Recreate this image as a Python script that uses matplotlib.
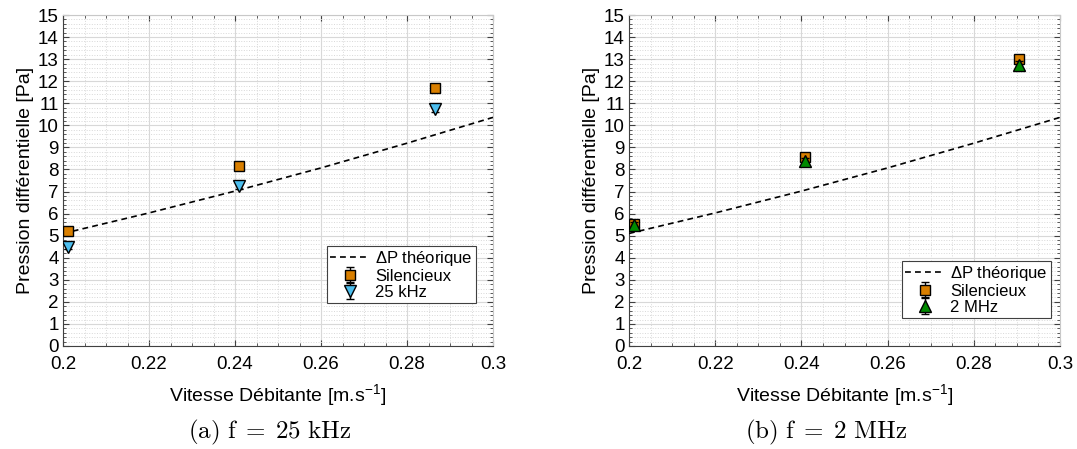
import matplotlib.pyplot as plt
from matplotlib.ticker import MultipleLocator


# theoretical pressure drop
theo_v = [0.20, 0.22, 0.24, 0.26, 0.28, 0.30]
theo_dp = [5.10, 6.03, 7.02, 8.07, 9.19, 10.36]

# (a) f = 25 kHz
v_a = [0.2011, 0.2409, 0.2865]
silent_a = [5.22, 8.17, 11.69]
silent_a_err = [0.12, 0.18, 0.12]
us_a = [4.50, 7.27, 10.72]
us_a_err = [0.10, 0.15, 0.10]

# (b) f = 2 MHz
v_b = [0.2011, 0.2409, 0.2905]
silent_b = [5.55, 8.58, 13.00]
silent_b_err = [0.12, 0.12, 0.20]
us_b = [5.50, 8.40, 12.75]
us_b_err = [0.10, 0.10, 0.15]

ORANGE = "#D97F00"
CYAN = "#4DBEEE"
GREEN = "#008A00"

plt.rcParams["font.family"] = ["Liberation Sans", "DejaVu Sans"]
plt.rcParams["mathtext.fontset"] = "custom"
plt.rcParams["mathtext.rm"] = "Liberation Sans"


def draw_panel(ax, v, silent, silent_err, us, us_err, us_label, us_marker, us_color, legend_anchor):
    ax.plot(theo_v, theo_dp, color="black", linestyle=(0, (3.5, 2.5)), linewidth=1.2,
            label=r"$\Delta$P théorique", zorder=3)
    ax.errorbar(v, silent, yerr=silent_err, fmt="s", color="black", markerfacecolor=ORANGE,
                markeredgecolor="black", markersize=7, elinewidth=1, capsize=3,
                label="Silencieux", zorder=4)
    ax.errorbar(v, us, yerr=us_err, fmt=us_marker, color="black", markerfacecolor=us_color,
                markeredgecolor="black", markersize=9, elinewidth=1, capsize=3,
                label=us_label, zorder=5)

    ax.set_xlim(0.2, 0.3)
    ax.set_ylim(0, 15)
    ax.xaxis.set_major_locator(MultipleLocator(0.02))
    ax.xaxis.set_minor_locator(MultipleLocator(0.005))
    ax.yaxis.set_major_locator(MultipleLocator(1))
    ax.yaxis.set_minor_locator(MultipleLocator(0.2))
    ax.xaxis.set_major_formatter(plt.FuncFormatter(lambda x, p: f"{x:g}"))

    ax.grid(which="major", color="#D8D8D8", linewidth=0.8)
    ax.grid(which="minor", color="#D8D8D8", linestyle=":", linewidth=0.7)
    ax.set_axisbelow(True)
    ax.tick_params(which="both", direction="in", top=True, right=True, labelsize=13.5,
                   color="#404040")
    ax.tick_params(which="major", length=4)
    ax.tick_params(which="minor", length=2)
    ax.tick_params(axis="x", pad=7)
    ax.tick_params(axis="y", pad=3)
    for side in ["left", "bottom"]:
        ax.spines[side].set_color("#404040")
    for side in ["top", "right"]:
        ax.spines[side].set_color("#C8C8C8")

    ax.set_xlabel(r"Vitesse Débitante [m.s$^{\mathregular{-1}}$]", fontsize=14, labelpad=7)
    ax.set_ylabel("Pression différentielle [Pa]", fontsize=14, labelpad=3)

    leg = ax.legend(loc="lower right", bbox_to_anchor=legend_anchor, fontsize=12,
                    frameon=True, fancybox=False, edgecolor="#404040", framealpha=1,
                    handlelength=2.4, handletextpad=0.3, borderpad=0.2, labelspacing=0.05,
                    borderaxespad=0)
    leg.get_frame().set_linewidth(0.8)


fig = plt.figure(figsize=(10.77, 4.49), dpi=100)
ax_a = fig.add_axes([63 / 1077, 103 / 449, 430 / 1077, 331 / 449])
ax_b = fig.add_axes([629 / 1077, 103 / 449, 431 / 1077, 331 / 449])

draw_panel(ax_a, v_a, silent_a, silent_a_err, us_a, us_a_err, "25 kHz", "v", CYAN,
           ((476 - 63) / 430, (346 - 303) / 331))
draw_panel(ax_b, v_b, silent_b, silent_b_err, us_b, us_b_err, "2 MHz", "^", GREEN,
           ((1051 - 629) / 431, (346 - 318) / 331))

fig.text(270 / 1077, 1 - 432 / 449, r"$\mathrm{(a)\ f\;=\;25\ kHz}$", ha="center", va="center",
         fontsize=18, math_fontfamily="cm")
fig.text(826 / 1077, 1 - 432 / 449, r"$\mathrm{(b)\ f\;=\;2\ MHz}$", ha="center", va="center",
         fontsize=18, math_fontfamily="cm")

fig.savefig("out.png", dpi=100)
plt.close(fig)
